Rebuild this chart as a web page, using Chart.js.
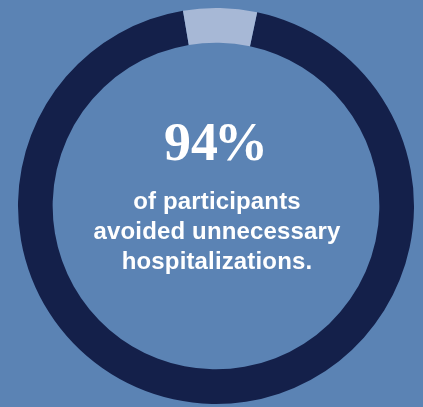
<!DOCTYPE html>
<html>
<head>
<meta charset="utf-8">
<script src="https://cdn.jsdelivr.net/npm/chart.js@4.4.0/dist/chart.umd.min.js"></script>
<style>
  html, body { margin: 0; padding: 0; background: #5b83b4; overflow: hidden; }
  #wrap { position: relative; width: 423px; height: 407px; }
  #ring { position: absolute; left: 0; top: 0; }
  .big {
    position: absolute; left: 0; width: 432px; top: 112px; text-align: center;
    font-family: "Liberation Serif", "DejaVu Serif", serif; font-weight: bold;
    font-size: 54px; color: #fff; line-height: 60px;
  }
  .big span { margin-left: -4px; }
  .sub {
    position: absolute; left: 0; width: 434px; top: 186px; text-align: center;
    font-family: "Liberation Sans", Arial, sans-serif; font-weight: bold;
    font-size: 24px; line-height: 30px; color: #fff; letter-spacing: 0.15px;
  }
</style>
</head>
<body>
<div id="wrap">
  <canvas id="ring" width="423" height="407"></canvas>
  <div class="big" id="bigText"></div>
  <div class="sub">of participants<br>avoided unnecessary<br>hospitalizations.</div>
</div>
<script>
// share of participants
const labels = ['Avoided unnecessary hospitalizations', 'Other'];
const values = [94, 6];

document.getElementById('bigText').innerHTML = values[0] + '<span>%</span>';

const ctx = document.getElementById('ring').getContext('2d');
new Chart(ctx, {
    type: 'doughnut',
    data: {
        labels: labels,
        datasets: [{
            data: values,
            backgroundColor: ['#14204a', '#a7b8d6'],
            borderWidth: 0
        }]
    },
    options: {
        responsive: false,
        animation: false,
        cutout: '82.5%',
        rotation: 12,
        layout: { padding: { left: 18, right: 9, top: 8, bottom: 3 } },
        plugins: {
            legend: { display: false },
            tooltip: { enabled: false }
        }
    }
});
</script>
</body>
</html>
